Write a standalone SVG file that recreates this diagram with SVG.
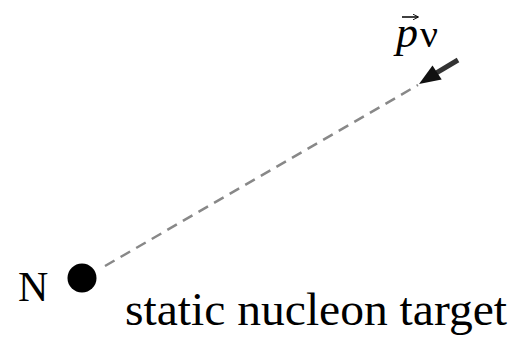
<svg xmlns="http://www.w3.org/2000/svg" width="517" height="340" viewBox="0 0 517 340">
<style>
.t{font-family:"Liberation Serif","Times New Roman",serif;fill:#000}
</style>
<defs>
<marker id="va" viewBox="0 0 10 10" refX="9" refY="5" markerWidth="4" markerHeight="4" orient="auto" markerUnits="strokeWidth">
<path d="M0,0 L10,5 L0,10" fill="none" stroke="#000" stroke-width="1.5"/>
</marker>
</defs>
<rect width="517" height="340" fill="#fff"/>
<g id="connectors">
<line x1="105" y1="266" x2="418" y2="85" stroke="#888" stroke-width="2.5" stroke-dasharray="11,7"/>
<line x1="458" y1="60" x2="436" y2="73.2" stroke="#333" stroke-width="5"/>
<polygon points="419,84 432.5,65.6 441.7,79.6" fill="#111"/>
</g>
<g id="nucleon">
<circle cx="82" cy="278" r="14.5" fill="#000"/>
<text class="t" x="18" y="301" font-size="42">N</text>
<text class="t" x="125" y="325" font-size="47" textLength="382" lengthAdjust="spacingAndGlyphs">static nucleon target</text>
</g>
<g id="momentum">
<line x1="402" y1="17" x2="418" y2="17" stroke="#000" stroke-width="1.5" marker-end="url(#va)"/>
<text class="t" x="396" y="47" font-size="44" font-style="italic">p</text>
<text class="t" x="420" y="47" font-size="38" textLength="18" lengthAdjust="spacingAndGlyphs">ν</text>
</g>
</svg>
